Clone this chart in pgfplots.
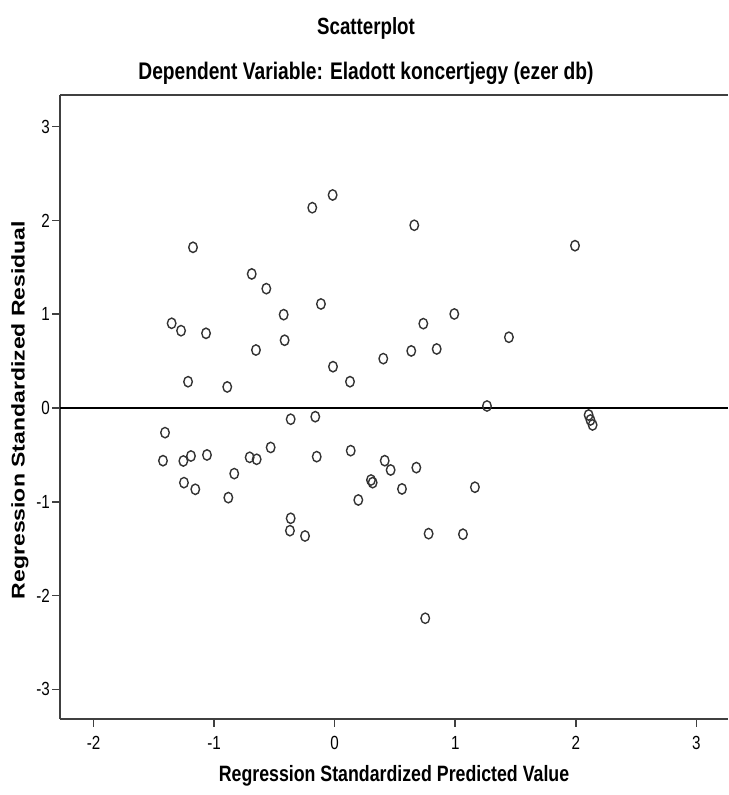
\documentclass[border=0pt]{standalone}
\usepackage{fontspec}
\setmainfont{Liberation Sans}
\newfontfamily\condfont[FakeStretch=0.8]{Liberation Sans}
\usepackage{graphicx}
\usepackage{pgfplots}
\pgfplotsset{compat=1.18}
\pgfplotstableread{
x y
-1.175 1.714
-0.688 1.430
-0.567 1.273
-0.423 0.996
-0.114 1.110
-0.186 2.136
-0.017 2.272
0.660 1.949
1.993 1.731
-1.352 0.904
-1.274 0.825
-1.067 0.797
-0.653 0.619
-0.415 0.723
-1.216 0.281
-0.891 0.225
-0.014 0.441
0.127 0.281
0.403 0.527
0.635 0.609
0.735 0.900
0.846 0.630
0.992 1.003
1.445 0.755
1.263 0.022
2.106 -0.074
2.121 -0.127
2.139 -0.180
-1.407 -0.262
-1.424 -0.561
-1.255 -0.564
-1.192 -0.511
-1.059 -0.500
-1.250 -0.795
-1.156 -0.866
-0.833 -0.699
-0.882 -0.955
-0.705 -0.525
-0.647 -0.546
-0.531 -0.420
-0.365 -0.119
-0.161 -0.092
-0.149 -0.518
0.133 -0.454
0.415 -0.561
0.464 -0.660
0.677 -0.635
0.301 -0.767
0.315 -0.795
0.558 -0.862
0.196 -0.980
-0.365 -1.175
-0.371 -1.307
-0.246 -1.364
0.779 -1.339
1.064 -1.345
1.163 -0.844
0.751 -2.241
}\residuals
\begin{document}
\begin{tikzpicture}
\begin{axis}[
  at={(0,0)}, anchor=south west,
  scale only axis, width=334pt, height=312pt,
  xmin=-2.278, xmax=3.262, ymin=-3.315, ymax=3.338,
  axis x line*=bottom, axis y line*=left,
  axis line style={black!75, line width=1pt, -},
  xtick={-2,-1,0,1,2,3}, ytick={-3,-2,-1,0,1,2,3},
  xticklabels={-2,-1,0,1,2,3}, yticklabels={-3,-2,-1,0,1,2,3},
  tick align=outside, major tick length=4pt,
  tick style={black!75, line width=0.8pt},
  xticklabel style={font=\condfont\fontsize{9.5}{10}\selectfont, anchor=north, yshift=-1pt},
  yticklabel style={font=\condfont\fontsize{9.5}{10}\selectfont, anchor=east, xshift=2.5pt},
]
\addplot[black, line width=0.9pt, forget plot] coordinates {(-2.278,0) (3.262,0)};
\addplot[only marks, mark=o, mark size=2.6pt,
  mark options={xscale=0.82, line width=0.7pt, black!80}] table {\residuals};
\draw[black!75, line width=1pt] (rel axis cs:0,1) -- (rel axis cs:1,1);
\end{axis}
\node[font=\condfont\bfseries\fontsize{11.7}{13}\selectfont] at (153pt,345.5pt) {Scatterplot};
\node[font=\condfont\bfseries\fontsize{12}{13}\selectfont] at (153pt,323pt) {Dependent Variable: Eladott koncertjegy (ezer db)};
\node[font=\condfont\bfseries\fontsize{11.1}{13}\selectfont] at (167pt,-28.5pt) {Regression Standardized Predicted Value};
\node[rotate=90, font=\bfseries\fontsize{11.5}{13}\selectfont] at (-20pt,154.5pt) {\scalebox{1}[0.8]{Regression Standardized Residual}};
\pgfresetboundingbox
\path[use as bounding box] (-30pt,-38pt) rectangle (334pt,359.5pt);
\end{tikzpicture}
\end{document}
